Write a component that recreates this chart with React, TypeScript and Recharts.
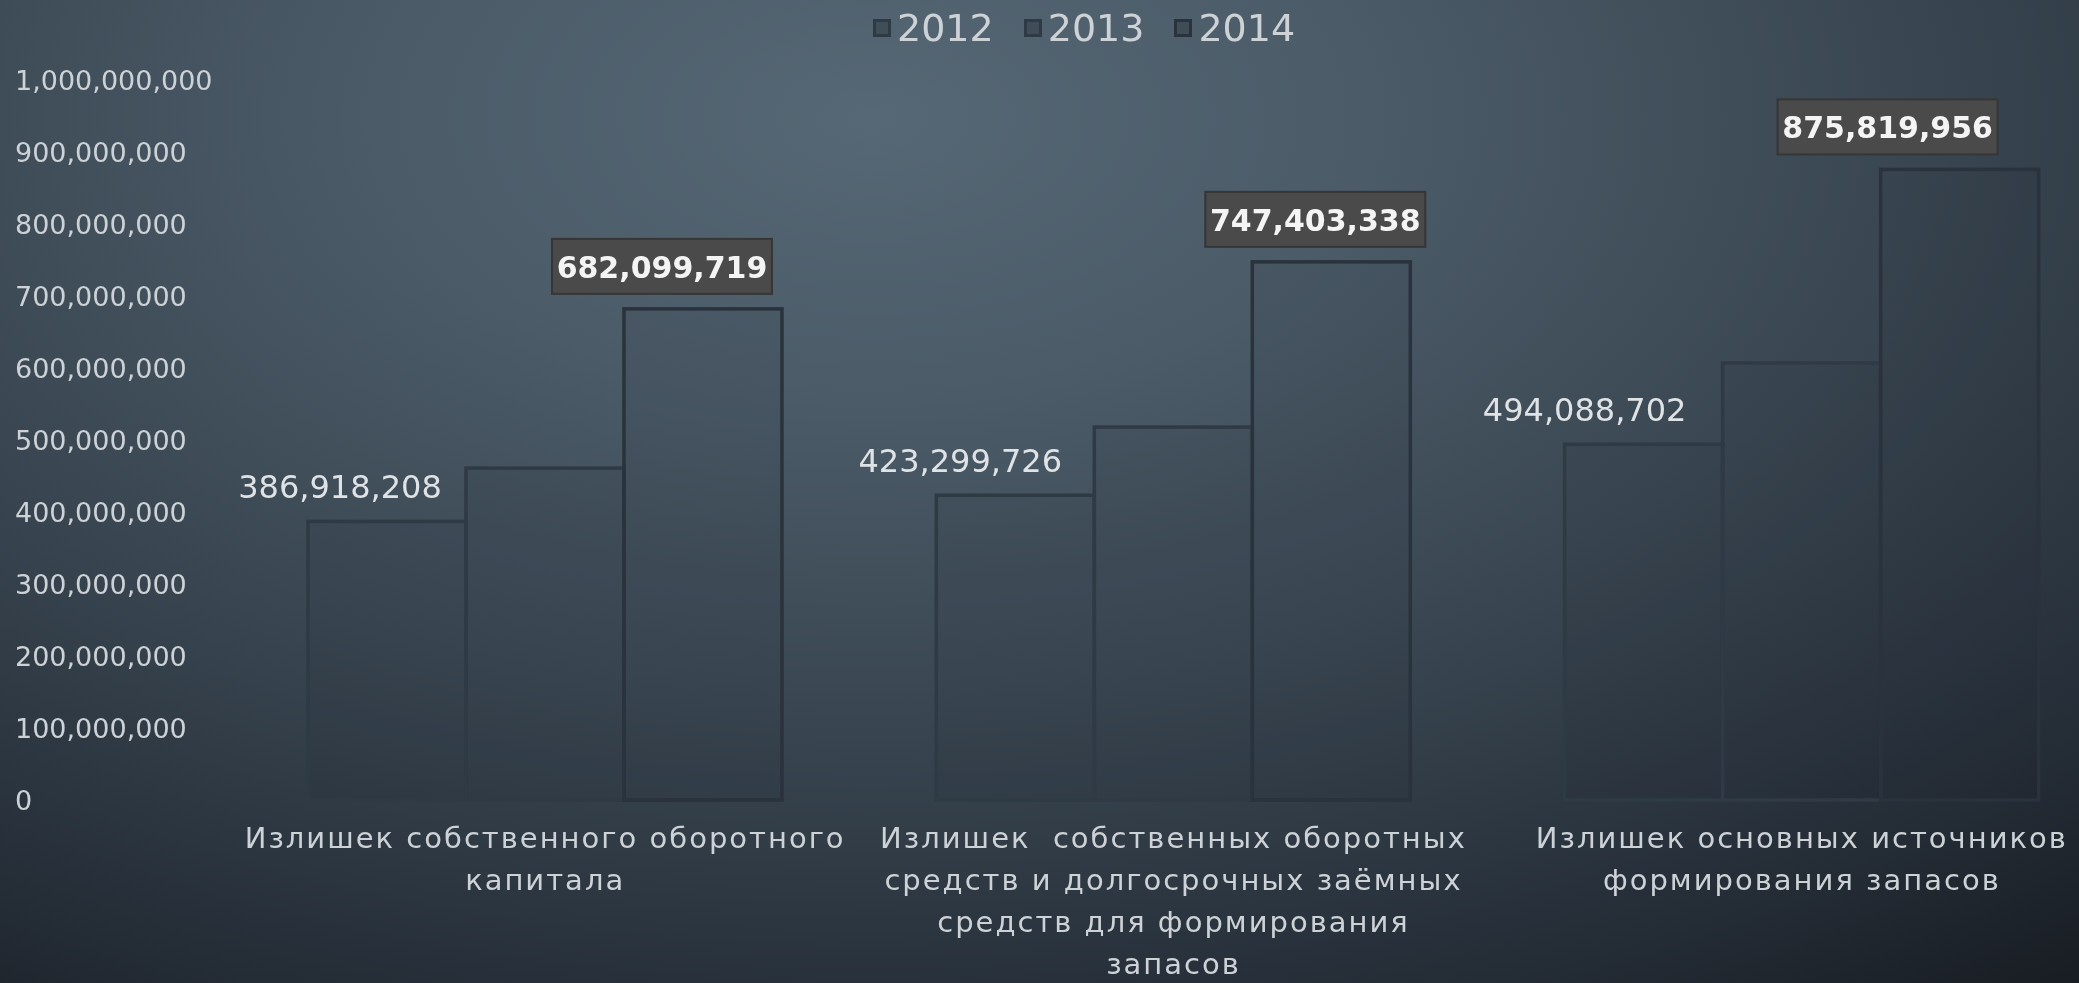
import React from 'react'
import { BarChart, Bar, XAxis, YAxis, LabelList } from 'recharts'

const categories = [
  'Излишек собственного оборотного\nкапитала',
  'Излишек  собственных оборотных\nсредств и долгосрочных заёмных\nсредств для формирования\nзапасов',
  'Излишек основных источников\nформирования запасов',
]
const values2012 = [386918208, 423299726, 494088702]
const values2013 = [461000000, 518000000, 607000000]
const values2014 = [682099719, 747403338, 875819956]
const yTicks = [0, 100000000, 200000000, 300000000, 400000000, 500000000, 600000000, 700000000, 800000000, 900000000, 1000000000]

const data = categories.map((name, i) => ({
  name,
  y2012: values2012[i],
  y2013: values2013[i],
  y2014: values2014[i],
}))

// hand-placed label nudges, like the original slide
const shift2012 = [-47, -55, -59]
const shift2014 = [-41, -16, -72]

const FONT = '"DejaVu Sans", sans-serif'
const TEXT = '#cdd2d6'
const fmt = (v: number) => v.toLocaleString('en-US')

const series = [
  { key: 'y2012', name: '2012', stroke: '#2e3b45', accent: '#4f8d86' },
  { key: 'y2013', name: '2013', stroke: '#303a46', accent: '#4d5068' },
  { key: 'y2014', name: '2014', stroke: '#29323d', accent: '' },
]

function BarShape(props: any) {
  const { x, y, width, height, stroke, accent } = props
  return (
    <g>
      <rect x={x} y={y} width={width} height={height} fill="rgba(20,30,40,0.08)" stroke={stroke} strokeWidth={3.5} />
      {accent ? <line x1={x + width} x2={x + width} y1={y + 2} y2={y + height} stroke={accent} strokeWidth={1.2} /> : null}
    </g>
  )
}

function geom(props: any) {
  const x = props.x ?? props.viewBox?.x ?? 0
  const y = props.y ?? props.viewBox?.y ?? 0
  const width = props.width ?? props.viewBox?.width ?? 0
  return { x, y, width }
}

function Label2012(props: any) {
  const { x, y, width } = geom(props)
  const cx = x + width / 2 + shift2012[props.index]
  return (
    <text x={cx} y={y - 35} dy="0.36em" textAnchor="middle" fill="#e0e3e6" fontFamily={FONT} fontSize={32}>
      {fmt(props.value)}
    </text>
  )
}

function Label2014(props: any) {
  const { x, y, width } = geom(props)
  const cx = x + width / 2 + shift2014[props.index]
  const cy = y - 42
  return (
    <g>
      <rect x={cx - 110} y={cy - 28} width={220} height={55} fill="#4a4a4a" stroke="#363636" strokeWidth={2} />
      <text x={cx} y={cy} dy="0.36em" textAnchor="middle" fill="#f4f4f4" fontFamily={FONT} fontWeight="bold" fontSize={30}>
        {fmt(props.value)}
      </text>
    </g>
  )
}

function YTick(props: any) {
  const { y, payload } = props
  return (
    <text x={15} y={y} dy="0.36em" textAnchor="start" fill={TEXT} fontFamily={FONT} fontSize={27}>
      {fmt(payload.value)}
    </text>
  )
}

function XTick(props: any) {
  const { x, y, payload } = props
  const lines = String(payload.value).split('\n')
  return (
    <text
      x={x}
      y={y + 38}
      textAnchor="middle"
      fill={TEXT}
      fontFamily={FONT}
      fontSize={29}
      letterSpacing={2}
      style={{ whiteSpace: 'pre' }}
    >
      {lines.map((ln, i) => (
        <tspan key={i} x={x} dy={i === 0 ? '0.36em' : 42}>
          {ln}
        </tspan>
      ))}
    </text>
  )
}

function LegendRow() {
  return (
    <div
      style={{
        position: 'absolute',
        left: 873,
        top: 6,
        display: 'flex',
        alignItems: 'center',
        fontFamily: FONT,
        fontSize: 38,
        color: TEXT,
      }}
    >
      {series.map((s) => (
        <div key={s.key} style={{ display: 'flex', alignItems: 'center', marginRight: 30 }}>
          <span
            style={{
              width: 12,
              height: 12,
              border: `3px solid ${s.stroke}`,
              background: 'rgba(60,72,82,0.8)',
              marginRight: 6,
              display: 'inline-block',
            }}
          />
          <span>{s.name}</span>
        </div>
      ))}
    </div>
  )
}

export default function App() {
  return (
    <div
      style={{
        position: 'fixed',
        left: 0,
        top: 0,
        width: 2079,
        height: 983,
        overflow: 'hidden',
        background:
          'radial-gradient(ellipse 95% 115% at 42% 12%, #566775 0%, #4b5b68 25%, #3a4752 52%, #27303a 78%, #171b21 100%)',
      }}
    >
      <BarChart width={2116} height={983} data={data} margin={{ top: 80, right: 0, left: 0, bottom: 0 }} barCategoryGap="12.25%" barGap={0}>
        <XAxis dataKey="name" height={183} axisLine={false} tickLine={false} tickSize={0} tickMargin={0} interval={0} tick={<XTick />} />
        <YAxis width={231} domain={[0, 1000000000]} ticks={yTicks} axisLine={false} tickLine={false} tick={<YTick />} />
        {series.map((s) => (
          <Bar
            key={s.key}
            dataKey={s.key}
            name={s.name}
            isAnimationActive={false}
            shape={(p: any) => <BarShape {...p} stroke={s.stroke} accent={s.accent} />}
          >
            {s.key === 'y2012' ? <LabelList dataKey="y2012" content={<Label2012 />} /> : null}
            {s.key === 'y2014' ? <LabelList dataKey="y2014" content={<Label2014 />} /> : null}
          </Bar>
        ))}
      </BarChart>
      <LegendRow />
    </div>
  )
}
